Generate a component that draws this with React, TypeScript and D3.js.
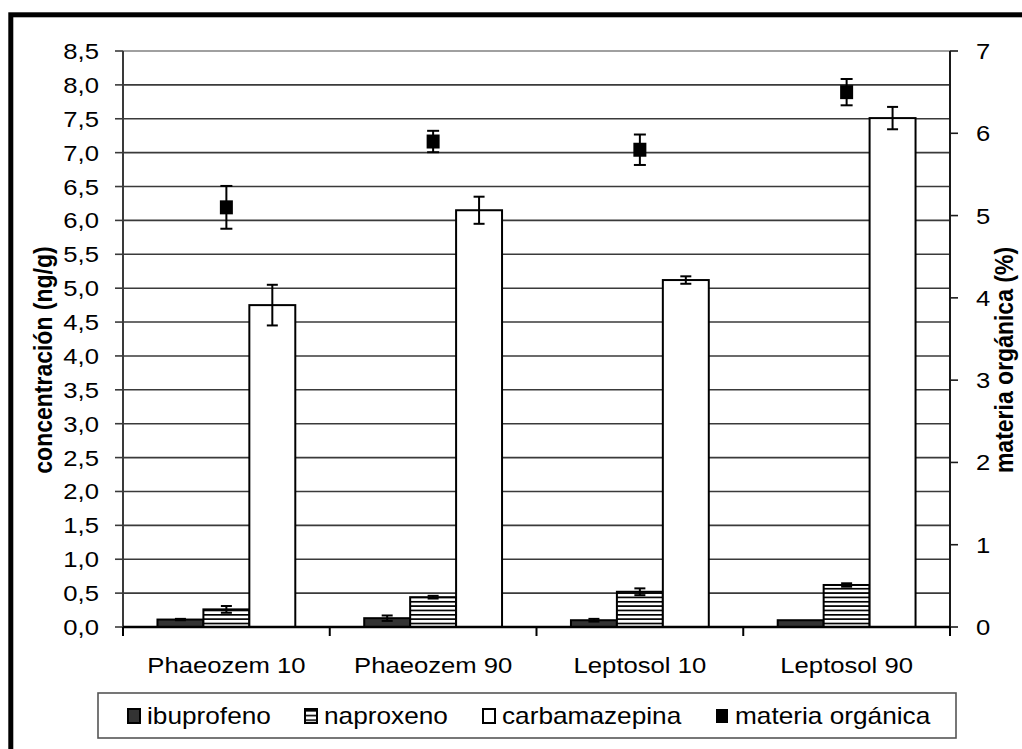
import React from "react";
import * as d3 from "d3";

const categories = ["Phaeozem 10", "Phaeozem 90", "Leptosol 10", "Leptosol 90"];
const seriesNames = ["ibuprofeno", "naproxeno", "carbamazepina"];
const ibuprofeno = [0.11, 0.13, 0.10, 0.10];
const ibuprofenoErr = [0.01, 0.04, 0.02, 0.0];
const naproxeno = [0.26, 0.44, 0.52, 0.62];
const naproxenoErr = [0.05, 0.02, 0.05, 0.025];
const carbamazepina = [4.75, 6.15, 5.12, 7.51];
const carbamazepinaErr = [0.30, 0.20, 0.055, 0.165];
const materiaOrganica = [5.10, 5.90, 5.80, 6.50];
const materiaOrganicaErr = [0.26, 0.13, 0.185, 0.16];
const leftTicks = [0, 0.5, 1, 1.5, 2, 2.5, 3, 3.5, 4, 4.5, 5, 5.5, 6, 6.5, 7, 7.5, 8, 8.5];
const rightTicks = [0, 1, 2, 3, 4, 5, 6, 7];
const legendLabels = ["ibuprofeno", "naproxeno", "carbamazepina", "materia orgánica"];

const W = 1022, H = 749;
const PL = 123, PR = 950, PT = 51, PB = 627;
const SX = 1.14;
const FONT = "'Liberation Sans', Arial, sans-serif";

const T = ({ x, y, anchor = "start", size = 22.5, weight = "normal", rot = 0, children }: any) => (
  <g transform={`translate(${x},${y}) scale(${SX},1)${rot ? ` rotate(${rot})` : ""}`}>
    <text textAnchor={anchor} fontSize={size} fontWeight={weight} fontFamily={FONT} fill="#000">
      {children}
    </text>
  </g>
);

export default function App() {
  const yL = d3.scaleLinear().domain([0, 8.5]).range([PB, PT]);
  const yR = d3.scaleLinear().domain([0, 7]).range([PB, PT]);
  const x0 = d3.scaleBand<string>().domain(categories).range([PL, PR]);
  const x1 = d3.scaleBand<string>().domain(seriesNames).range([0, x0.bandwidth()]).paddingInner(0).paddingOuter(0.75);
  const fmt = (v: number) => v.toFixed(1).replace(".", ",");

  const series = [
    { name: "ibuprofeno", vals: ibuprofeno, err: ibuprofenoErr, fill: "#333333" },
    { name: "naproxeno", vals: naproxeno, err: naproxenoErr, fill: "url(#stripes)" },
    { name: "carbamazepina", vals: carbamazepina, err: carbamazepinaErr, fill: "#ffffff" },
  ];

  const errBar = (cx: number, y1: number, y2: number, hw: number, key: string) => (
    <g key={key} stroke="#000" strokeWidth={2}>
      <line x1={cx} x2={cx} y1={y1} y2={y2} />
      <line x1={cx - hw} x2={cx + hw} y1={y1} y2={y1} />
      <line x1={cx - hw} x2={cx + hw} y1={y2} y2={y2} />
    </g>
  );

  const legendX = [128, 305, 483, 716];
  const legendFills = ["#333333", "url(#stripesL)", "#ffffff", "#000000"];

  return (
    <svg width={W} height={H} style={{ position: "absolute", left: 0, top: 0, background: "#fff" }}>
      <defs>
        <pattern id="stripes" patternUnits="userSpaceOnUse" width={10} height={4.35} y={PB}>
          <rect width={10} height={4.35} fill="#fff" />
          <rect width={10} height={1.7} y={0} fill="#000" />
        </pattern>
        <pattern id="stripesL" patternUnits="userSpaceOnUse" width={10} height={4.7} y={710}>
          <rect width={10} height={4.7} fill="#fff" />
          <rect width={10} height={1.6} y={0} fill="#000" />
        </pattern>
      </defs>
      <rect x={0} y={0} width={W} height={H} fill="#fff" />

      {/* gridlines */}
      {leftTicks.map((t) => (
        <line key={"g" + t} x1={PL} x2={PR} y1={yL(t)} y2={yL(t)} stroke={t === 8.5 ? "#808080" : "#3a3a3a"} strokeWidth={1.6} />
      ))}

      {/* bars */}
      {series.map((s) =>
        categories.map((c, i) => {
          const bx = (x0(c) as number) + (x1(s.name) as number);
          const bw = x1.bandwidth();
          return (
            <rect key={s.name + c} x={bx} y={yL(s.vals[i])} width={bw} height={PB - yL(s.vals[i])}
              fill={s.fill} stroke="#000" strokeWidth={2} />
          );
        })
      )}
      {/* bar error bars */}
      {series.map((s) =>
        categories.map((c, i) => {
          if (s.err[i] <= 0) return null;
          const cx = (x0(c) as number) + (x1(s.name) as number) + x1.bandwidth() / 2;
          return errBar(cx, yL(s.vals[i] + s.err[i]), yL(s.vals[i] - s.err[i]), 5.5, "e" + s.name + c);
        })
      )}

      {/* materia orgánica markers */}
      {categories.map((c, i) => {
        const cx = (x0(c) as number) + x0.bandwidth() / 2;
        const cy = yR(materiaOrganica[i]);
        return (
          <g key={"m" + c}>
            {errBar(cx, yR(materiaOrganica[i] + materiaOrganicaErr[i]), yR(materiaOrganica[i] - materiaOrganicaErr[i]), 6, "me" + c)}
            <rect x={cx - 6.5} y={cy - 7} width={13} height={14} fill="#000" />
          </g>
        );
      })}

      {/* left axis */}
      <line x1={PL} x2={PL} y1={PT} y2={PB} stroke="#3a3a3a" strokeWidth={2} />
      {leftTicks.map((t) => (
        <g key={"lt" + t}>
          <line x1={PL - 8} x2={PL} y1={yL(t)} y2={yL(t)} stroke="#3a3a3a" strokeWidth={1.6} />
          <T x={99} y={yL(t) + 8} anchor="end">{fmt(t)}</T>
        </g>
      ))}

      {/* right axis */}
      <line x1={PR} x2={PR} y1={PT} y2={PB} stroke="#1a1a1a" strokeWidth={2} />
      {rightTicks.map((t) => (
        <g key={"rt" + t}>
          <line x1={PR} x2={PR + 8} y1={yR(t)} y2={yR(t)} stroke="#1a1a1a" strokeWidth={1.6} />
          <T x={976} y={yR(t) + 8}>{String(t)}</T>
        </g>
      ))}

      {/* x axis */}
      <line x1={PL} x2={PR} y1={PB} y2={PB} stroke="#000" strokeWidth={2.5} />
      {[...categories.map((c) => x0(c) as number), PR].map((x, i) => (
        <line key={"xt" + i} x1={x} x2={x} y1={PB} y2={PB + 9} stroke="#000" strokeWidth={2} />
      ))}
      {categories.map((c) => (
        <T key={"xl" + c} x={(x0(c) as number) + x0.bandwidth() / 2} y={673} anchor="middle">{c}</T>
      ))}

      {/* axis titles */}
      <T x={52} y={360} anchor="middle" size={23} weight="bold" rot={-90}>concentración (ng/g)</T>
      <T x={1013} y={360} anchor="middle" size={23} weight="bold" rot={-90}>materia orgánica (%)</T>

      {/* legend */}
      <rect x={98} y={693} width={858} height={45} fill="#fff" stroke="#555" strokeWidth={1.6} />
      {legendLabels.map((l, i) => (
        <g key={"lg" + l}>
          <rect x={legendX[i]} y={709} width={12} height={14} fill={legendFills[i]}
            stroke={i === 3 ? "none" : "#000"} strokeWidth={i === 3 ? 0 : 2} />
          <T x={legendX[i] + 19} y={724} size={23}>{l}</T>
        </g>
      ))}

      {/* outer frame */}
      <rect x={10.8} y={14.8} width={1040} height={780} fill="none" stroke="#000" strokeWidth={5} />
    </svg>
  );
}
